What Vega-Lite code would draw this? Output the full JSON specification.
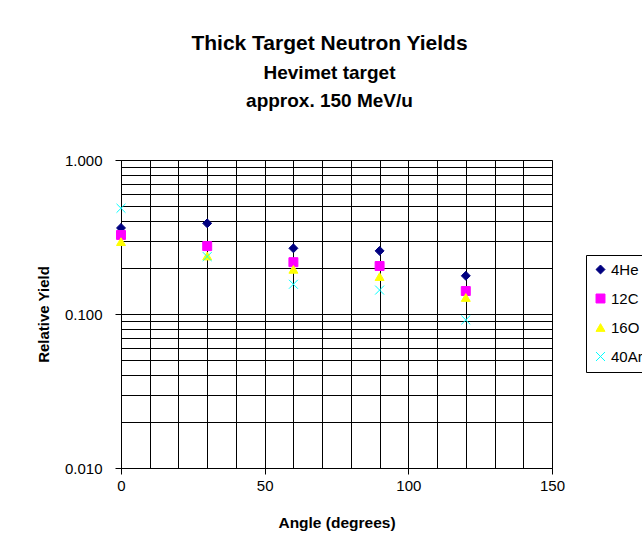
{
  "$schema": "https://vega.github.io/schema/vega-lite/v6.json",
  "width": 431,
  "height": 308,
  "autosize": {"type": "none"},
  "padding": {"left": 121, "top": 160, "right": 90, "bottom": 89},
  "background": "white",
  "title": {
    "text": "Thick Target Neutron Yields",
    "subtitle": ["Hevimet target", "approx. 150 MeV/u"],
    "fontSize": 21,
    "subtitleFontSize": 19,
    "font": "Liberation Sans",
    "subtitleFont": "Liberation Sans",
    "fontWeight": "bold",
    "subtitleFontWeight": "bold",
    "color": "black",
    "subtitleColor": "black",
    "subtitlePadding": 10,
    "subtitleLineHeight": 28,
    "anchor": "middle",
    "offset": 42,
    "dx": -7
  },
  "data": {
    "values": [
      {"angle": 0, "yield": 0.362, "ion": "4He"},
      {"angle": 30, "yield": 0.388, "ion": "4He"},
      {"angle": 60, "yield": 0.267, "ion": "4He"},
      {"angle": 90, "yield": 0.257, "ion": "4He"},
      {"angle": 120, "yield": 0.177, "ion": "4He"},
      {"angle": 0, "yield": 0.326, "ion": "12C"},
      {"angle": 30, "yield": 0.276, "ion": "12C"},
      {"angle": 60, "yield": 0.217, "ion": "12C"},
      {"angle": 90, "yield": 0.205, "ion": "12C"},
      {"angle": 120, "yield": 0.141, "ion": "12C"},
      {"angle": 0, "yield": 0.295, "ion": "16O"},
      {"angle": 30, "yield": 0.238, "ion": "16O"},
      {"angle": 60, "yield": 0.195, "ion": "16O"},
      {"angle": 90, "yield": 0.175, "ion": "16O"},
      {"angle": 120, "yield": 0.128, "ion": "16O"},
      {"angle": 0, "yield": 0.486, "ion": "40Ar"},
      {"angle": 30, "yield": 0.236, "ion": "40Ar"},
      {"angle": 60, "yield": 0.156, "ion": "40Ar"},
      {"angle": 90, "yield": 0.143, "ion": "40Ar"},
      {"angle": 120, "yield": 0.0915, "ion": "40Ar"}
    ]
  },
  "mark": {"type": "point", "filled": true, "opacity": 1, "size": 80, "strokeWidth": 1},
  "encoding": {
    "x": {
      "field": "angle",
      "type": "quantitative",
      "scale": {"domain": [0, 150], "nice": false, "zero": false},
      "axis": {
        "title": "Angle (degrees)",
        "values": [0, 10, 20, 30, 40, 50, 60, 70, 80, 90, 100, 110, 120, 130, 140, 150],
        "labelExpr": "datum.value % 50 == 0 ? datum.label : ''",
        "tickColor": {"condition": {"test": "datum.value % 50 == 0", "value": "black"}, "value": "transparent"},
        "tickSize": 6,
        "labelPadding": 4,
        "titlePadding": 22,
        "titleFontSize": 15.5
      }
    },
    "y": {
      "field": "yield",
      "type": "quantitative",
      "scale": {"type": "log", "domain": [0.01, 1], "nice": false},
      "axis": {
        "title": "Relative Yield",
        "values": [0.01, 0.02, 0.03, 0.04, 0.05, 0.06, 0.07, 0.08, 0.09, 0.1, 0.2, 0.3, 0.4, 0.5, 0.6, 0.7, 0.8, 0.9, 1],
        "labelExpr": "(datum.value == 0.01 || datum.value == 0.1 || datum.value == 1) ? format(datum.value, '.3f') : ''",
        "tickColor": {"condition": {"test": "datum.value == 0.01 || datum.value == 0.1 || datum.value == 1", "value": "black"}, "value": "transparent"},
        "tickSize": 6,
        "labelPadding": 13,
        "titlePadding": 13
      }
    },
    "color": {
      "field": "ion",
      "type": "nominal",
      "scale": {"domain": ["4He", "12C", "16O", "40Ar"], "range": ["#000080", "#FF00FF", "#FFFF00", "#00FFFF"]},
      "legend": {"title": null}
    },
    "stroke": {
      "field": "ion",
      "type": "nominal",
      "scale": {"domain": ["4He", "12C", "16O", "40Ar"], "range": ["#000080", "#FF00FF", "#FFFF00", "#00FFFF"]},
      "legend": {"title": null}
    },
    "shape": {
      "field": "ion",
      "type": "nominal",
      "scale": {"domain": ["4He", "12C", "16O", "40Ar"], "range": ["diamond", "square", "triangle-up", "M-1,-1L1,1M1,-1L-1,1"]},
      "legend": {"title": null}
    }
  },
  "config": {
    "font": "Liberation Sans",
    "view": {"stroke": "#808080", "strokeWidth": 1},
    "axis": {
      "grid": true,
      "gridColor": "black",
      "gridOpacity": 1,
      "gridWidth": 1,
      "domainColor": "black",
      "domainWidth": 1,
      "labelFont": "Liberation Sans",
      "labelFontSize": 15,
      "labelColor": "black",
      "titleFont": "Liberation Sans",
      "titleFontSize": 15,
      "titleFontWeight": "bold",
      "titleColor": "black",
      "labelFlush": false,
      "labelOverlap": false
    },
    "legend": {
      "orient": "none",
      "legendX": 465,
      "legendY": 95,
      "strokeColor": "black",
      "fillColor": "white",
      "padding": 7,
      "labelFont": "Liberation Sans",
      "labelFontSize": 15,
      "labelColor": "black",
      "symbolSize": 80,
      "symbolStrokeWidth": 1,
      "rowPadding": 13,
      "labelOffset": 3
    }
  }
}
